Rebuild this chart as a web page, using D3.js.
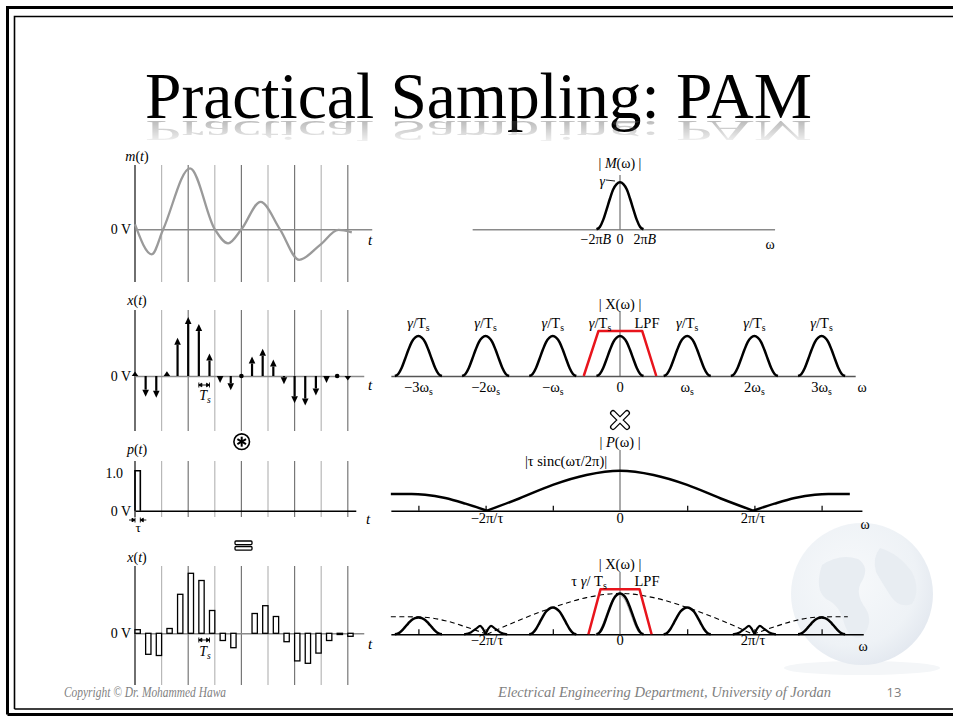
<!DOCTYPE html>
<html>
<head>
<meta charset="utf-8">
<script src="https://cdn.jsdelivr.net/npm/d3@7"></script>
<style>
  html, body { margin: 0; background: #fff; overflow: hidden; }
  svg { display: block; }
  svg text { font-family: "Liberation Serif", "DejaVu Serif", serif; fill: #000; }
</style>
</head>
<body>
<script>

// ---------------- data ----------------

// time panels: guide lines every unit, samples every Ts, flat-top width tau
var gridT = [0, 1, 2, 3, 4, 5, 6, 7, 8];
var Ts = 0.4, tau = 0.2;

// message m(t): key points (t, value) of the grey curve
var msgT = [0, 0.63, 1.06, 2.07, 3.0, 3.5, 4.0, 4.72, 5.45, 6.17, 6.95, 7.65, 8.15];
var msgV = [0.08, -0.41, 0, 1.0, 0, -0.23, 0, 0.45, 0, -0.5, -0.26, -0.01, -0.05];

// sampled values x(nTs), n = 0..20
var sampleV = [0.06, -0.35, -0.37, 0.08, 0.65, 1.0, 0.88, 0.38, -0.12, -0.24, 0,
               0.33, 0.46, 0.28, -0.14, -0.46, -0.5, -0.33, -0.12, -0.02, -0.05];

// pulse p(t)
var pulseAmp = 1.0;

// spectrum: bell shape of M(w), offsets in units of ws, relative height
var bellOff = [-0.35, -0.3, -0.25, -0.2, -0.15, -0.1, -0.05, 0, 0.05, 0.1, 0.15, 0.2, 0.25, 0.3, 0.35];
var bellRel = [0, 0.05, 0.2, 0.42, 0.65, 0.85, 0.96, 1, 0.96, 0.85, 0.65, 0.42, 0.2, 0.05, 0];

// ideal-sampling copies
var copyCenters = [-3, -2, -1, 0, 1, 2, 3];
var copyPeak = 0.85;
var copyTicks = ["\u22123\u03C9", "\u22122\u03C9", "\u2212\u03C9", "0", "\u03C9", "2\u03C9", "3\u03C9"];

// LPF trapezoids (w, height)
var lpfW = [-0.54, -0.32, 0.33, 0.54];
var lpfH = [0, 0.96, 0.96, 0];
var lpf2W = [-0.47, -0.29, 0.29, 0.47];
var lpf2H = [0, 0.96, 0.96, 0];

// |P(w)| lobes
var pW = [-3.41, -3.1, -2.9, -2.6, -2.3, -1.98, -1.5, -1.0, -0.5, 0, 0.5, 1.0, 1.5, 1.98, 2.3, 2.6, 2.9, 3.1, 3.42];
var pH = [0.355, 0.355, 0.34, 0.27, 0.15, 0, 0.26, 0.55, 0.76, 0.85, 0.76, 0.55, 0.26, 0, 0.15, 0.27, 0.34, 0.355, 0.355];

// dashed envelope in the last panel
var eW = [-3.41, -3.0, -2.6, -2.3, -1.98, -1.5, -1.0, -0.5, 0, 0.5, 1.0, 1.5, 1.98, 2.3, 2.6, 3.0, 3.39];
var eH = [0.375, 0.37, 0.29, 0.16, 0, 0.3, 0.57, 0.78, 0.87, 0.78, 0.57, 0.3, 0, 0.16, 0.29, 0.37, 0.375];

// flat-top copies: centers and peak heights, plus notched copies at +-2ws
var ftCenters = [-3, -1, 0, 1, 3];
var ftPeaks = [0.36, 0.57, 0.87, 0.57, 0.36];
var notchCenters = [-2, 2];
var notchOff = [-0.32, -0.22, -0.14, -0.08, -0.04, 0, 0.04, 0.08, 0.14, 0.22, 0.32];
var notchH = [0, 0.04, 0.12, 0.18, 0.12, 0.02, 0.12, 0.18, 0.12, 0.04, 0];

// ---------------- svg ----------------
var width = 953, height = 719;
var svg = d3.select("body").append("svg")
    .attr("width", width)
    .attr("height", height);
var defs = svg.append("defs");

// slide frame (left, top and bottom only; the slide runs off the right edge)
svg.append("path")
    .attr("d", "M7.5,714.5 V7.5 H953 M7.5,714.5 H953")
    .attr("fill", "none").attr("stroke", "#000").attr("stroke-width", 3);
svg.append("path")
    .attr("d", "M14.5,709 V16.5 H953 M14.5,709 H953")
    .attr("fill", "none").attr("stroke", "#000").attr("stroke-width", 1.6);

// globe watermark (faint)
var rg = defs.append("radialGradient").attr("id", "globe").attr("cx", "42%").attr("cy", "40%").attr("r", "62%");
rg.append("stop").attr("offset", 0).attr("stop-color", "#f7f9fb");
rg.append("stop").attr("offset", 0.75).attr("stop-color", "#eef2f6");
rg.append("stop").attr("offset", 1).attr("stop-color", "#e4e9f0");
svg.append("ellipse").attr("cx", 862).attr("cy", 668).attr("rx", 78).attr("ry", 7)
    .attr("fill", "#f4f6f8");
svg.append("circle").attr("cx", 862).attr("cy", 594).attr("r", 71)
    .attr("fill", "url(#globe)");
var globeG = svg.append("g").attr("fill", "#e8edf2");
globeG.append("path").attr("d", "M822,565 q18,-12 36,-6 q12,8 4,22 q-8,12 4,28 q8,14 -4,28 q-12,4 -18,-14 q-4,-18 -18,-24 q-12,-10 -4,-34Z");
globeG.append("path").attr("d", "M880,548 q18,5 32,24 q9,18 0,32 q-13,5 -22,-9 q-9,-14 -14,-23 q-4,-14 4,-24Z");

// title with a faded reflection
var title = "Practical Sampling: PAM";
svg.append("text")
    .attr("x", 145).attr("y", 118)
    .attr("font-size", 66)
    .attr("textLength", 667).attr("lengthAdjust", "spacingAndGlyphs")
    .text(title);
var fade = defs.append("linearGradient").attr("id", "fade")
    .attr("x1", 0).attr("y1", 0).attr("x2", 0).attr("y2", 1);
fade.append("stop").attr("offset", 0).attr("stop-color", "#fff").attr("stop-opacity", 0.4);
fade.append("stop").attr("offset", 1).attr("stop-color", "#fff").attr("stop-opacity", 0);
defs.append("mask").attr("id", "refl").append("rect")
    .attr("x", 120).attr("y", 121).attr("width", 720).attr("height", 26)
    .attr("fill", "url(#fade)");
svg.append("g").attr("mask", "url(#refl)")
  .append("text")
    .attr("x", 145).attr("y", 118)
    .attr("font-size", 66)
    .attr("textLength", 667).attr("lengthAdjust", "spacingAndGlyphs")
    .attr("transform", "translate(0,121) scale(1,-0.45) translate(0,-118)")
    .style("fill", "#555")
    .text(title);

// rich text helper: parts are strings or {t, i, sub}
function rich(x, y, parts, size, anchor) {
  size = size || 14;
  var t = svg.append("text").attr("x", x).attr("y", y)
      .attr("font-size", size).attr("text-anchor", anchor || "middle");
  var down = 0;
  parts.forEach(function(p) {
    if (typeof p === "string") p = {t: p};
    var s = t.append("tspan").text(p.t);
    if (p.i) s.attr("font-style", "italic");
    if (p.sub) {
      s.attr("font-size", size * 0.68).attr("dy", 3);
      down = 3;
    } else if (down) {
      s.attr("dy", -down);
      down = 0;
    }
  });
  return t;
}

// ---------------- time-domain panels ----------------
var tx = d3.scaleLinear().domain([0, 8]).range([135, 347.8]);

var mY = d3.scaleLinear().domain([0, 1]).range([229.3, 168.3]);
var xY = d3.scaleLinear().domain([0, 1]).range([376, 317]);
var pY = d3.scaleLinear().domain([0, 1]).range([510.7, 470.7]);
var fY = d3.scaleLinear().domain([0, 1]).range([633.3, 573.3]);

function timeFrame(yScale, top, bottom, tEnd, axisColor, axisW) {
  var g = svg.append("g");
  g.selectAll("line.grid").data(gridT).enter().append("line")
      .attr("class", "grid")
      .attr("x1", function(d) { return tx(d); })
      .attr("x2", function(d) { return tx(d); })
      .attr("y1", top).attr("y2", bottom)
      .attr("stroke", function(d, i) { return i === 0 ? "#222" : (i % 2 ? "#b8b8b8" : "#777"); })
      .attr("stroke-width", function(d, i) { return i === 0 ? 1.3 : 1.2; });
  var axScale = d3.scaleLinear().domain([0, tEnd]).range([tx(0), tx(tEnd)]);
  var ax = g.append("g")
      .attr("transform", "translate(0," + yScale(0) + ")")
      .call(d3.axisBottom(axScale).tickValues([]).tickSizeOuter(0));
  ax.select(".domain").attr("stroke", axisColor).attr("stroke-width", axisW);
  return g;
}

// m(t)
timeFrame(mY, 165, 282, 8.9, "#8a8a8a", 1.6);
svg.append("path")
    .datum(d3.zip(msgT, msgV))
    .attr("d", d3.line()
        .x(function(d) { return tx(d[0]); })
        .y(function(d) { return mY(d[1]); })
        .curve(d3.curveMonotoneX))
    .attr("fill", "none").attr("stroke", "#9a9a9a").attr("stroke-width", 2.3);
rich(137, 161, [{t: "m", i: true}, "(", {t: "t", i: true}, ")"], 14);
rich(131, 234, ["0 V"], 14, "end");
rich(370, 245, [{t: "t", i: true}], 15);

// x(t) impulses
timeFrame(xY, 310, 431, 8.6, "#8a8a8a", 1.6);
var impG = svg.append("g");
sampleV.forEach(function(v, k) {
  var x = tx(k * Ts), y0 = xY(0), d = y0 - xY(v);
  if (Math.abs(v) < 0.025) {
    impG.append("circle").attr("cx", x).attr("cy", y0).attr("r", 2.3).attr("fill", "#000");
    return;
  }
  var s = d > 0 ? -1 : 1;
  var len = Math.max(Math.abs(d), 4.5);
  var tip = y0 + s * len;
  var head = Math.min(7, len);
  var base = tip - s * head;
  if (base !== y0) {
    impG.append("line").attr("x1", x).attr("x2", x).attr("y1", y0).attr("y2", base)
        .attr("stroke", "#000").attr("stroke-width", 2.2);
  }
  impG.append("path")
      .attr("d", "M" + (x - 3.3) + "," + base + " L" + (x + 3.3) + "," + base + " L" + x + "," + tip + "Z")
      .attr("fill", "#000");
});
rich(137, 305, [{t: "x", i: true}, "(", {t: "t", i: true}, ")"], 14);
rich(131, 381, ["0 V"], 14, "end");
rich(370, 390, [{t: "t", i: true}], 15);

function tsMarker(y) {
  var a = tx(6 * Ts), b = tx(7 * Ts);
  var g = svg.append("g").attr("stroke", "#000").attr("stroke-width", 0.9).attr("fill", "#000");
  g.append("line").attr("x1", a).attr("x2", b).attr("y1", y).attr("y2", y);
  g.append("line").attr("x1", a).attr("x2", a).attr("y1", y - 2.5).attr("y2", y + 2.5);
  g.append("line").attr("x1", b).attr("x2", b).attr("y1", y - 2.5).attr("y2", y + 2.5);
  g.append("path").attr("d", "M" + a + "," + y + " l3,-1.8 v3.6Z");
  g.append("path").attr("d", "M" + b + "," + y + " l-3,-1.8 v3.6Z");
}
tsMarker(385);
rich(205, 400, [{t: "T", i: true}, {t: "s", i: true, sub: true}], 14);

// p(t)
timeFrame(pY, 461, 517, 8.3, "#000", 1.6);
svg.append("path")
    .attr("d", "M" + tx(0) + "," + pY(0) + " V" + pY(pulseAmp) + " H" + tx(tau) + " V" + pY(0))
    .attr("fill", "none").attr("stroke", "#000").attr("stroke-width", 1.6);
rich(137, 454, [{t: "p", i: true}, "(", {t: "t", i: true}, ")"], 14);
rich(123, 478, ["1.0"], 14, "end");
rich(131, 516, ["0 V"], 14, "end");
rich(368, 524, [{t: "t", i: true}], 15);
(function() {
  var a = tx(0), b = tx(tau), y = 520;
  var g = svg.append("g").attr("stroke", "#000").attr("stroke-width", 0.9).attr("fill", "#000");
  g.append("line").attr("x1", a - 6).attr("x2", a).attr("y1", y).attr("y2", y);
  g.append("line").attr("x1", b).attr("x2", b + 6).attr("y1", y).attr("y2", y);
  g.append("line").attr("x1", a).attr("x2", a).attr("y1", y - 2.5).attr("y2", y + 2.5);
  g.append("line").attr("x1", b).attr("x2", b).attr("y1", y - 2.5).attr("y2", y + 2.5);
  g.append("path").attr("d", "M" + a + "," + y + " l-3,-1.8 v3.6Z");
  g.append("path").attr("d", "M" + b + "," + y + " l3,-1.8 v3.6Z");
})();
rich(138, 532, ["\u03C4"], 13);

// convolution symbol
(function() {
  var cx = 241.7, cy = 441.7;
  var g = svg.append("g").attr("stroke", "#000").attr("fill", "none");
  g.append("circle").attr("cx", cx).attr("cy", cy).attr("r", 7.8).attr("stroke-width", 1.6);
  [90, 30, 150].forEach(function(a) {
    var r = a * Math.PI / 180, dx = Math.cos(r) * 5, dy = Math.sin(r) * 5;
    g.append("line").attr("x1", cx - dx).attr("y1", cy - dy).attr("x2", cx + dx).attr("y2", cy + dy)
        .attr("stroke-width", 2);
  });
})();

// equals symbol
svg.append("g").attr("fill", "#fff").attr("stroke", "#000").attr("stroke-width", 1.3)
  .selectAll("rect").data([541, 546.5]).enter().append("rect")
    .attr("x", 235).attr("y", function(d) { return d; })
    .attr("width", 17).attr("height", 3.6).attr("rx", 1);

// flat-top sampled x(t)
timeFrame(fY, 566, 685, 8.6, "#8a8a8a", 1.6);
svg.append("g").selectAll("rect")
    .data(sampleV.map(function(v, k) { return {k: k, v: v}; }).filter(function(d) { return d.v !== 0; }))
  .enter().append("rect")
    .attr("x", function(d) { return tx(d.k * Ts); })
    .attr("width", tx(tau) - tx(0))
    .attr("y", function(d) { return Math.min(fY(d.v), fY(0)); })
    .attr("height", function(d) { return Math.abs(fY(d.v) - fY(0)); })
    .attr("fill", "#fff").attr("stroke", "#000").attr("stroke-width", 1.3);
rich(137, 562, [{t: "x", i: true}, "(", {t: "t", i: true}, ")"], 14);
rich(131, 638, ["0 V"], 14, "end");
rich(370, 649, [{t: "t", i: true}], 15);
tsMarker(640);
rich(205, 656, [{t: "T", i: true}, {t: "s", i: true, sub: true}], 14);

// ---------------- frequency-domain panels ----------------
var wx = d3.scaleLinear().domain([0, 1]).range([620, 687.2]);
var Mh = d3.scaleLinear().domain([0, 1]).range([229.3, 182.3]);
var Xh = d3.scaleLinear().domain([0, 1]).range([376, 329]);
var Ph = d3.scaleLinear().domain([0, 1]).range([510.7, 463.7]);
var Bh = d3.scaleLinear().domain([0, 1]).range([634.3, 587.3]);

function freqAxis(hScale, w0, w1, top, ticks, color) {
  var axScale = d3.scaleLinear().domain([w0, w1]).range([wx(w0), wx(w1)]);
  var ax = svg.append("g")
      .attr("transform", "translate(0," + hScale(0) + ")")
      .call(d3.axisBottom(axScale).tickValues(ticks).tickSizeInner(-5).tickSizeOuter(0).tickFormat(""));
  ax.select(".domain").attr("stroke", color).attr("stroke-width", 1.5);
  ax.selectAll(".tick line").attr("stroke", "#000").attr("stroke-width", 1.2);
  svg.append("line").attr("x1", wx(0)).attr("x2", wx(0)).attr("y1", top).attr("y2", hScale(0))
      .attr("stroke", "#555").attr("stroke-width", 1);
}

function bellPath(hScale, center, peak) {
  return d3.line()
      .x(function(d) { return wx(center + d[0]); })
      .y(function(d) { return hScale(peak * d[1]); })
      .curve(d3.curveMonotoneX)(d3.zip(bellOff, bellRel));
}

function wLine(hScale, ws, hs, curve) {
  return d3.line()
      .x(function(d) { return wx(d[0]); })
      .y(function(d) { return hScale(d[1]); })
      .curve(curve || d3.curveLinear)(d3.zip(ws, hs));
}

// |M(w)|
freqAxis(Mh, -2.2, 2.3, 175, [], "#8a8a8a");
svg.append("path").attr("d", bellPath(Mh, 0, 1))
    .attr("fill", "none").attr("stroke", "#000").attr("stroke-width", 2.5);
rich(620, 167.5, ["| ", {t: "M", i: true}, "(\u03C9) |"], 14);
rich(605, 186, [{t: "\u03B3", i: true}], 14, "end");
svg.append("line").attr("x1", 606).attr("x2", 615).attr("y1", 180).attr("y2", 181)
    .attr("stroke", "#000").attr("stroke-width", 0.9);
rich(wx(-0.36), 244, ["\u22122\u03C0", {t: "B", i: true}], 14);
rich(620, 244, ["0"], 14);
rich(wx(0.37), 244, ["2\u03C0", {t: "B", i: true}], 14);
rich(770, 249, ["\u03C9"], 14);

// |X(w)| ideal sampling
freqAxis(Xh, -3.41, 3.5, 311, [], "#555");
svg.append("g").selectAll("path").data(copyCenters).enter().append("path")
    .attr("d", function(c) { return bellPath(Xh, c, copyPeak); })
    .attr("fill", "none").attr("stroke", "#000").attr("stroke-width", 2.5);
svg.append("path").attr("d", wLine(Xh, lpfW, lpfH))
    .attr("fill", "none").attr("stroke", "#e8141c").attr("stroke-width", 2.5)
    .attr("stroke-linejoin", "round");
copyCenters.forEach(function(c, i) {
  var cx = c === 0 ? 600 : wx(c);
  rich(cx, 328, [{t: "\u03B3", i: true}, "/T", {t: "s", sub: true}], 14.5);
  var parts = copyTicks[i] === "0" ? ["0"] : [copyTicks[i], {t: "s", sub: true}];
  rich(wx(c), 392, parts, 14.5);
});
rich(647, 328, ["LPF"], 14.5);
rich(620, 309, ["| X(\u03C9) |"], 14.5);
rich(862, 392, ["\u03C9"], 14);

// multiplication symbol
svg.append("path").attr("d", "M613,413 L627,427 M627,413 L613,427")
    .attr("stroke", "#000").attr("stroke-width", 6).attr("stroke-linecap", "round");
svg.append("path").attr("d", "M613,413 L627,427 M627,413 L613,427")
    .attr("stroke", "#fff").attr("stroke-width", 3.4).attr("stroke-linecap", "round");

// |P(w)|
freqAxis(Ph, -3.41, 3.6, 450, [-3, -2, -1, 1, 2, 3], "#000");
[[0, 6], [5, 14], [13, 19]].forEach(function(r) {
  svg.append("path")
      .attr("d", wLine(Ph, pW.slice(r[0], r[1]), pH.slice(r[0], r[1]), d3.curveMonotoneX))
      .attr("fill", "none").attr("stroke", "#000").attr("stroke-width", 2.5);
});
rich(620, 447, ["| ", {t: "P", i: true}, "(\u03C9) |"], 14.5);
rich(566, 466, ["|\u03C4 sinc(\u03C9\u03C4/2\u03C0)|"], 14.5);
rich(wx(-1.98), 523, ["\u22122\u03C0/\u03C4"], 14.5);
rich(620, 523, ["0"], 14.5);
rich(wx(1.98), 523, ["2\u03C0/\u03C4"], 14.5);
rich(865, 529, ["\u03C9"], 14);

// |X(w)| flat-top sampling
freqAxis(Bh, -3.41, 3.62, 572, [-3, -2, -1, 1, 2, 3], "#000");
[[0, 5], [4, 13], [12, 17]].forEach(function(r) {
  svg.append("path")
      .attr("d", wLine(Bh, eW.slice(r[0], r[1]), eH.slice(r[0], r[1]), d3.curveMonotoneX))
      .attr("fill", "none").attr("stroke", "#000").attr("stroke-width", 1.1)
      .attr("stroke-dasharray", "5,3.5");
});
svg.append("path").attr("d", bellPath(Bh, -0.02, 0.84))
    .attr("fill", "none").attr("stroke", "#aaa").attr("stroke-width", 1);
svg.append("g").selectAll("path").data(ftCenters).enter().append("path")
    .attr("d", function(c, i) { return bellPath(Bh, c, ftPeaks[i]); })
    .attr("fill", "none").attr("stroke", "#000").attr("stroke-width", 2.5);
notchCenters.forEach(function(c) {
  svg.append("path")
      .attr("d", d3.line()
          .x(function(d) { return wx(c + d[0]); })
          .y(function(d) { return Bh(d[1]); })
          .curve(d3.curveMonotoneX)(d3.zip(notchOff, notchH)))
      .attr("fill", "none").attr("stroke", "#000").attr("stroke-width", 2.2);
});
svg.append("path").attr("d", wLine(Bh, lpf2W, lpf2H))
    .attr("fill", "none").attr("stroke", "#e8141c").attr("stroke-width", 2.5)
    .attr("stroke-linejoin", "round");
rich(620, 569, ["| X(\u03C9) |"], 14.5);
rich(589, 586, ["\u03C4 ", {t: "\u03B3", i: true}, "/ T", {t: "s", sub: true}], 14.5);
rich(647, 586, ["LPF"], 14.5);
rich(wx(-1.98), 645, ["\u22122\u03C0/\u03C4"], 14.5);
rich(620, 645, ["0"], 14.5);
rich(wx(1.98), 645, ["2\u03C0/\u03C4"], 14.5);
rich(863, 651, ["\u03C9"], 14);

// ---------------- footer ----------------
svg.append("text").attr("x", 64).attr("y", 697)
    .attr("font-size", 15).attr("font-style", "italic")
    .style("fill", "#7f7f7f")
    .attr("textLength", 162).attr("lengthAdjust", "spacingAndGlyphs")
    .text("Copyright \u00A9 Dr. Mohammed Hawa");
svg.append("text").attr("x", 498).attr("y", 697)
    .attr("font-size", 15).attr("font-style", "italic")
    .style("fill", "#7f7f7f")
    .attr("textLength", 333).attr("lengthAdjust", "spacingAndGlyphs")
    .text("Electrical Engineering Department, University of Jordan");
svg.append("text").attr("x", 894).attr("y", 697)
    .attr("font-size", 13).attr("text-anchor", "middle")
    .style("font-family", "'Open Sans', sans-serif").style("fill", "#7f7f7f")
    .text("13");

</script>
</body>
</html>
